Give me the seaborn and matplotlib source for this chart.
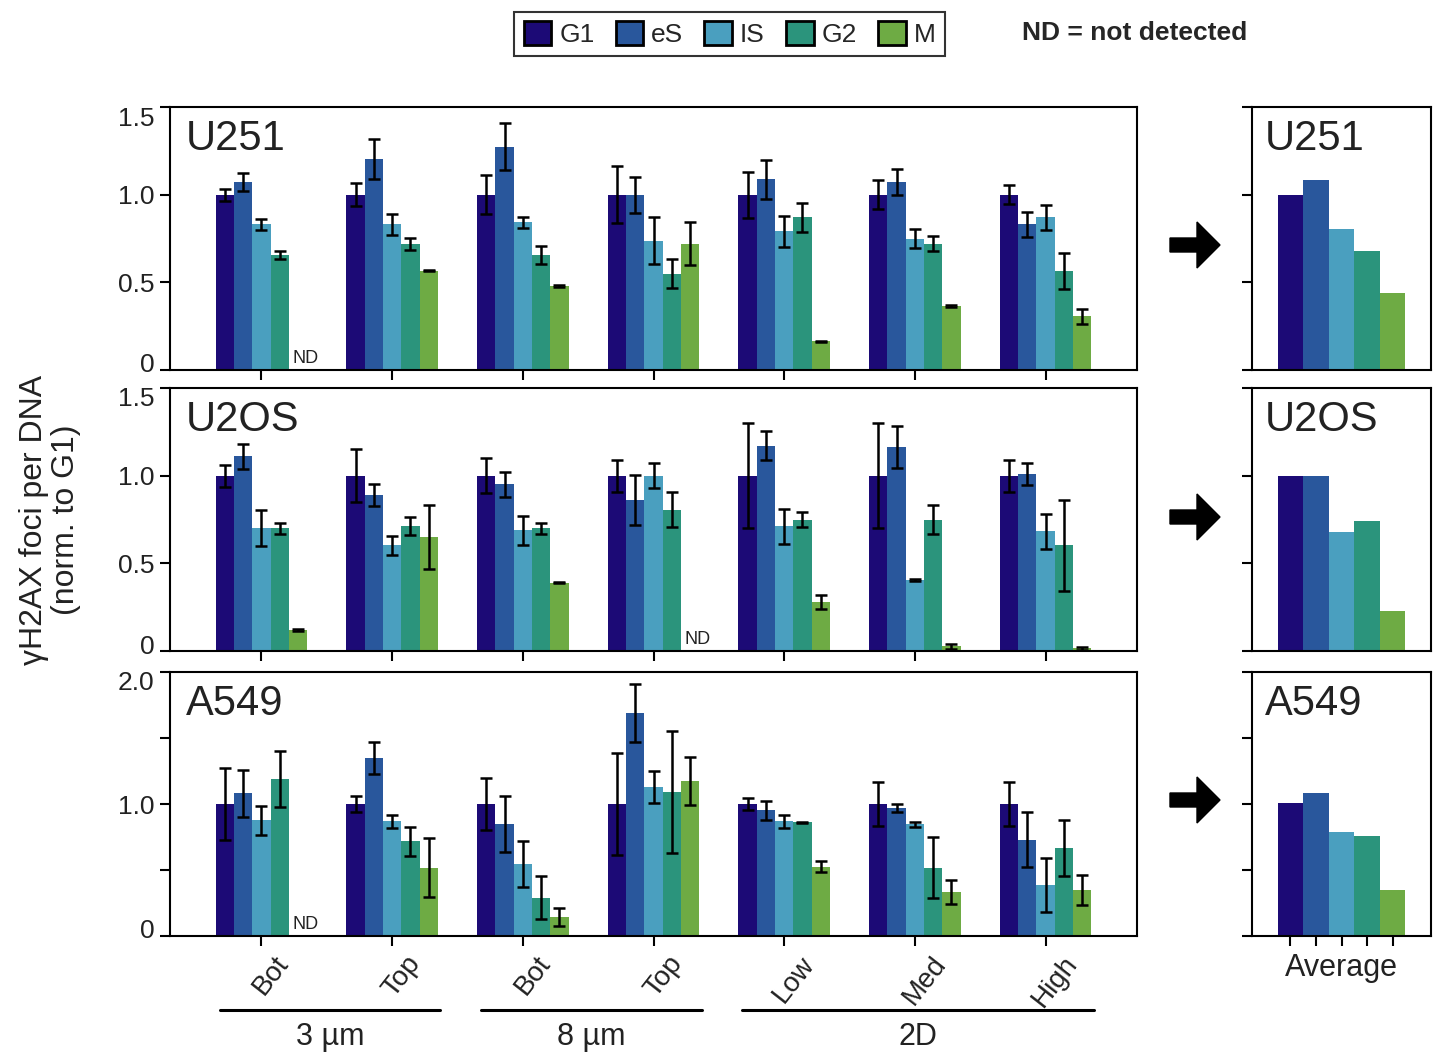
import matplotlib
matplotlib.use("Agg")
import matplotlib.pyplot as plt
import seaborn as sns
import pandas as pd
from matplotlib.patches import Patch, FancyArrow
from matplotlib.transforms import blended_transform_factory, ScaledTranslation

sns.set_theme(style="ticks")
plt.rcParams['font.family'] = ['Liberation Sans', 'DejaVu Sans']

# ---------------- data ----------------
phases = ["G1", "eS", "IS", "G2", "M"]
phase_colors = ["#1c0a76", "#29579c", "#4a9fbf", "#2b947c", "#6eab44"]
group_ids = ["3 µm Bot", "3 µm Top", "8 µm Bot", "8 µm Top", "2D Low", "2D Med", "2D High"]
tick_labels = ["Bot", "Top", "Bot", "Top", "Low", "Med", "High"]
group_spans = [("3 µm", 0, 1), ("8 µm", 2, 3), ("2D", 4, 6)]
cell_lines = ["U251", "U2OS", "A549"]

# None = not detected (ND)
u251_vals = {
    "G1": [1.0, 1.0, 1.0, 1.0, 1.0, 1.0, 1.0],
    "eS": [1.072, 1.204, 1.273, 1.0, 1.089, 1.072, 0.83],
    "IS": [0.83, 0.83, 0.842, 0.738, 0.79, 0.75, 0.871],
    "G2": [0.658, 0.721, 0.658, 0.549, 0.871, 0.721, 0.566],
    "M":  [None, 0.566, 0.48, 0.721, 0.164, 0.365, 0.307],
}
u251_errs = {
    "G1": [0.035, 0.064, 0.112, 0.162, 0.132, 0.082, 0.053],
    "eS": [0.053, 0.113, 0.133, 0.103, 0.111, 0.072, 0.073],
    "IS": [0.033, 0.062, 0.032, 0.132, 0.091, 0.052, 0.072],
    "G2": [0.023, 0.034, 0.052, 0.082, 0.082, 0.043, 0.102],
    "M":  [None, 0.004, 0.004, 0.122, 0.004, 0.004, 0.042],
}
u2os_vals = {
    "G1": [1.0, 1.0, 1.0, 1.0, 1.0, 1.0, 1.0],
    "eS": [1.11, 0.889, 0.952, 0.86, 1.17, 1.165, 1.01],
    "IS": [0.70, 0.602, 0.688, 1.0, 0.711, 0.406, 0.682],
    "G2": [0.70, 0.711, 0.70, 0.805, 0.75, 0.75, 0.602],
    "M":  [0.119, 0.648, 0.389, None, 0.28, 0.027, 0.015],
}
u2os_errs = {
    "G1": [0.062, 0.153, 0.10, 0.092, 0.30, 0.30, 0.092],
    "eS": [0.073, 0.061, 0.071, 0.142, 0.082, 0.12, 0.062],
    "IS": [0.103, 0.052, 0.082, 0.072, 0.10, 0.004, 0.10],
    "G2": [0.032, 0.052, 0.03, 0.10, 0.04, 0.08, 0.262],
    "M":  [0.004, 0.182, 0.004, None, 0.042, 0.015, 0.01],
}
a549_vals = {
    "G1": [1.0, 1.0, 1.0, 1.0, 1.0, 1.0, 1.0],
    "eS": [1.081, 1.348, 0.845, 1.69, 0.952, 0.967, 0.731],
    "IS": [0.876, 0.868, 0.548, 1.127, 0.868, 0.845, 0.388],
    "G2": [1.188, 0.716, 0.289, 1.089, 0.86, 0.518, 0.67],
    "M":  [None, 0.518, 0.145, 1.173, 0.525, 0.335, 0.35],
}
a549_errs = {
    "G1": [0.273, 0.062, 0.20, 0.383, 0.042, 0.163, 0.163],
    "eS": [0.18, 0.12, 0.212, 0.22, 0.072, 0.03, 0.212],
    "IS": [0.112, 0.052, 0.173, 0.122, 0.052, 0.022, 0.203],
    "G2": [0.212, 0.112, 0.163, 0.462, 0.005, 0.232, 0.212],
    "M":  [None, 0.223, 0.07, 0.18, 0.043, 0.091, 0.112],
}
u251_avg = [1.0, 1.084, 0.807, 0.681, 0.439]
u2os_avg = [1.0, 1.0, 0.678, 0.742, 0.229]
a549_avg = [1.008, 1.085, 0.79, 0.761, 0.345]

yticks_15 = [0, 0.5, 1.0, 1.5]
ylabels_15 = ["0", "0.5", "1.0", "1.5"]
yticks_20 = [0, 0.5, 1.0, 1.5, 2.0]
ylabels_20 = ["0", "", "1.0", "", "2.0"]

panels = [
    ("U251", u251_vals, u251_errs, u251_avg, 1.5, yticks_15, ylabels_15),
    ("U2OS", u2os_vals, u2os_errs, u2os_avg, 1.5, yticks_15, ylabels_15),
    ("A549", a549_vals, a549_errs, a549_avg, 2.0, yticks_20, ylabels_20),
]

# ---------------- layout ----------------
W, H = 1445, 1059
fig = plt.figure(figsize=(W / 100, H / 100), dpi=100)
main_left, main_w = 170 / W, 967 / W
avg_left, avg_w = 1252 / W, 179 / W
rows_px = [(107, 370), (388, 651), (672, 936)]
arrow_y_px = [245, 517, 800]
FS = 19
FS_BIG = 22


def style_axes(ax):
    for s in ax.spines.values():
        s.set_linewidth(1.5)
        s.set_color("black")
    ax.tick_params(axis="both", direction="out", length=7, width=1.5,
                   colors="black", labelsize=FS, pad=4)
    ax.tick_params(axis="both", labelcolor="#222222")
    ax.set_xlabel("")
    ax.set_ylabel("")


def shift(label, dx_px, dy_px):
    label.set_transform(label.get_transform() +
                        ScaledTranslation(dx_px / 100, dy_px / 100, fig.dpi_scale_trans))


for i, (name, vals, errs, avg, ymax, yt, yl) in enumerate(panels):
    top_px, bot_px = rows_px[i]
    b = 1 - bot_px / H
    h = (bot_px - top_px) / H
    ax = fig.add_axes([main_left, b, main_w, h])
    rows = []
    for p in phases:
        for g, v in zip(group_ids, vals[p]):
            rows.append({"cond": g, "phase": p, "value": 0.0 if v is None else v})
    df = pd.DataFrame(rows)
    sns.barplot(data=df, x="cond", y="value", hue="phase", order=group_ids,
                hue_order=phases, palette=phase_colors, saturation=1, width=0.7,
                errorbar=None, legend=False, linewidth=0, ax=ax)
    for p, cont in zip(phases, ax.containers):
        for bar, v, e in zip(cont, vals[p], errs[p]):
            xc = bar.get_x() + bar.get_width() / 2
            if v is None:
                ax.text(bar.get_x() + 0.03, 0.012 * ymax, "ND", ha="left",
                        va="bottom", fontsize=13, color="#222222")
            else:
                ax.errorbar(xc, v, yerr=e, fmt="none", ecolor="black",
                            elinewidth=1.8, capsize=4.5, capthick=1.8, zorder=5)
    ax.set_xlim(-0.7, 6.7)
    ax.set_ylim(0, ymax)
    ax.set_yticks(yt)
    ax.set_yticklabels(yl)
    style_axes(ax)
    ylabs = ax.get_yticklabels()
    shift(ylabs[0], 0, 7)
    shift(ylabs[-1], 0, -9)
    ax.set_xticks(range(len(group_ids)))
    if i == 2:
        ax.set_xticklabels(tick_labels, rotation=52, ha="center", va="top",
                           fontsize=20)
        for lab in ax.get_xticklabels():
            shift(lab, 10, 0)
        tr = blended_transform_factory(ax.transData, fig.transFigure)
        for gname, g0, g1 in group_spans:
            x0, x1 = g0 - 0.32, g1 + 0.37
            ax.plot([x0, x1], [1 - 1010 / H, 1 - 1010 / H], color="black",
                    lw=2.2, transform=tr, clip_on=False)
            ax.text((x0 + x1) / 2, 1 - 1037 / H, gname, transform=tr,
                    ha="center", va="center", fontsize=FS_BIG, color="#222222")
    else:
        ax.set_xticklabels([])
    ax.text(0.016, 0.955, name, transform=ax.transAxes, ha="left", va="top",
            fontsize=30, color="#222222")

    # average panel
    axa = fig.add_axes([avg_left, b, avg_w, h])
    dfa = pd.DataFrame({"cat": ["Average"] * 5, "phase": phases, "value": avg})
    sns.barplot(data=dfa, x="cat", y="value", hue="phase", hue_order=phases,
                palette=phase_colors, saturation=1, width=0.715, errorbar=None,
                legend=False, linewidth=0, ax=axa)
    centers = [c[0].get_x() + c[0].get_width() / 2 for c in axa.containers]
    axa.set_xlim(-0.5, 0.5)
    axa.set_ylim(0, ymax)
    axa.set_yticks(yt)
    axa.set_yticklabels([])
    style_axes(axa)
    axa.set_xticks(centers)
    axa.set_xticklabels([])
    if i == 2:
        axa.set_xlabel("Average", fontsize=FS_BIG, labelpad=1, color="#222222")
    else:
        axa.tick_params(axis="x", length=0)
    axa.text(0.07, 0.955, name, transform=axa.transAxes, ha="left", va="top",
             fontsize=30, color="#222222")

    # arrow
    ya = (H - arrow_y_px[i]) / 100
    fig.add_artist(FancyArrow(11.70, ya, 0.50, 0, width=0.14, head_width=0.46,
                              head_length=0.23, length_includes_head=True,
                              color="black", transform=fig.dpi_scale_trans))

# y label
fig.text(50 / W, 1 - 520 / H, "γH2AX foci per DNA\n(norm. to G1)", rotation=90,
         ha="center", va="center", multialignment="center", fontsize=23,
         linespacing=1.05, color="#222222")

# legend
handles = [Patch(facecolor=c, edgecolor="black", linewidth=2, label=p)
           for p, c in zip(phases, phase_colors)]
leg = fig.legend(handles=handles, loc="center", bbox_to_anchor=(729.5 / W, 1 - 34 / H),
                 ncol=5, frameon=True, fancybox=False, edgecolor="black",
                 fontsize=FS, handlelength=1.05, handleheight=1.05,
                 handletextpad=0.3, columnspacing=0.8, borderpad=0.35)
leg.get_frame().set_linewidth(1.5)

fig.text(1135 / W, 1 - 33 / H, "ND = not detected", ha="center", va="center",
         fontsize=FS, fontweight="bold")

fig.savefig("out.png", dpi=100)
